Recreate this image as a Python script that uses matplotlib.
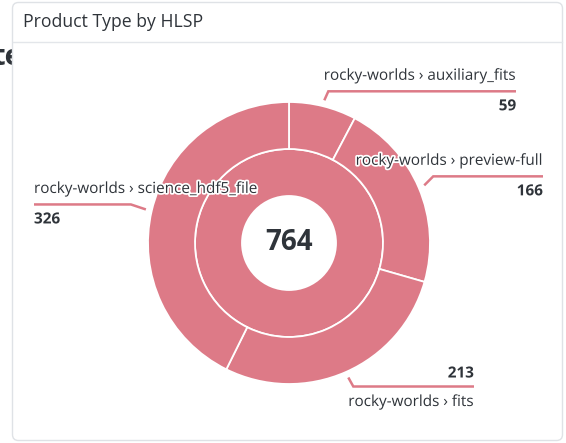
import numpy as np
import matplotlib
matplotlib.use("Agg")
import matplotlib.pyplot as plt
from matplotlib.patches import FancyBboxPatch
import matplotlib.patheffects as pe

plt.rcParams['font.family'] = ['Open Sans', 'DejaVu Sans']

title = "Product Type by HLSP"
parent = "rocky-worlds"
categories = ["auxiliary_fits", "preview-full", "fits", "science_hdf5_file"]
values = [59, 166, 213, 326]
total = sum(values)

PINK = "#dd7a87"
TXT = "#2f343a"

W, H = 566, 443
fig = plt.figure(figsize=(W / 100, H / 100), dpi=100)

# overlay axes in pixel coordinates (y down)
ov = fig.add_axes([0, 0, 1, 1])
ov.set_xlim(0, W)
ov.set_ylim(H, 0)
ov.axis('off')

# cut-off background heading (partly hidden behind the card)
ov.text(22, 57, "te", fontsize=21, fontweight='bold', color=TXT,
        ha='right', va='center', zorder=0)

# card
card = FancyBboxPatch((12.5, 2.5), 550, 438, boxstyle="round,pad=0,rounding_size=6",
                      facecolor='white', edgecolor='#dfe2e6', linewidth=1.0, zorder=1)
ov.add_patch(card)
ov.plot([13, 562], [41.5, 41.5], color='#e3e6ea', lw=1.0, zorder=2)
ov.text(23, 22, title, fontsize=12.7, color=TXT, ha='left', va='center', zorder=3)

# pie geometry (pixels)
cx, cy, R = 289, 243, 141
r_mid = 94
r_hole = 47

pax = fig.add_axes([(cx - R) / W, (H - cy - R) / H, 2 * R / W, 2 * R / H])
pax.set_zorder(2)
pax.pie([total], radius=r_mid / R, colors=[PINK], startangle=90, counterclock=False,
        wedgeprops=dict(width=(r_mid - r_hole) / R, edgecolor='white', linewidth=1.3))
pax.pie(values, radius=1.0, colors=[PINK] * len(values), startangle=90, counterclock=False,
        wedgeprops=dict(width=(R - r_mid) / R, edgecolor='white', linewidth=1.3))
pax.set_xlim(-1, 1)
pax.set_ylim(-1, 1)
pax.set_aspect('equal')
pax.axis('off')
pax.text(0, 0, str(total), fontsize=20, fontweight='bold', color=TXT,
         ha='center', va='center')

# labels with leader lines
ov2 = fig.add_axes([0, 0, 1, 1])
ov2.set_zorder(3)
ov2.set_xlim(0, W)
ov2.set_ylim(H, 0)
ov2.axis('off')

halo = [pe.withStroke(linewidth=2.5, foreground='white')]
layout = {
    "auxiliary_fits": dict(elbow=(4, -9), end=516, ha='right', name_above=True),
    "preview-full": dict(elbow=(9, -9), end=543, ha='right', name_above=True),
    "fits": dict(elbow=(5, 9), end=474, ha='right', name_above=False),
    "science_hdf5_file": dict(elbow=(-15, -5), end=34, ha='left', name_above=True),
}

cum = np.cumsum([0] + values)
for i, cat in enumerate(categories):
    mid = (cum[i] + cum[i + 1]) / 2 / total * 2 * np.pi
    ax_ = cx + 147 * np.sin(mid)
    ay_ = cy - 147 * np.cos(mid)
    L = layout[cat]
    ex, ey = ax_ + L['elbow'][0], ay_ + L['elbow'][1]
    ov2.plot([ax_, ex, L['end']], [ay_, ey, ey], color=PINK, lw=1.8,
             solid_capstyle='butt', solid_joinstyle='miter')
    name = f"{parent} \u203a {cat}"
    if L['name_above']:
        ny, vy = ey - 15, ey + 15
    else:
        ny, vy = ey + 16, ey - 13
    ov2.text(L['end'], ny, name, fontsize=11, color=TXT, ha=L['ha'], va='center',
             path_effects=halo)
    ov2.text(L['end'], vy, str(values[i]), fontsize=11, fontweight='bold', color=TXT,
             ha=L['ha'], va='center', path_effects=halo)

fig.savefig("out.png", dpi=100)
